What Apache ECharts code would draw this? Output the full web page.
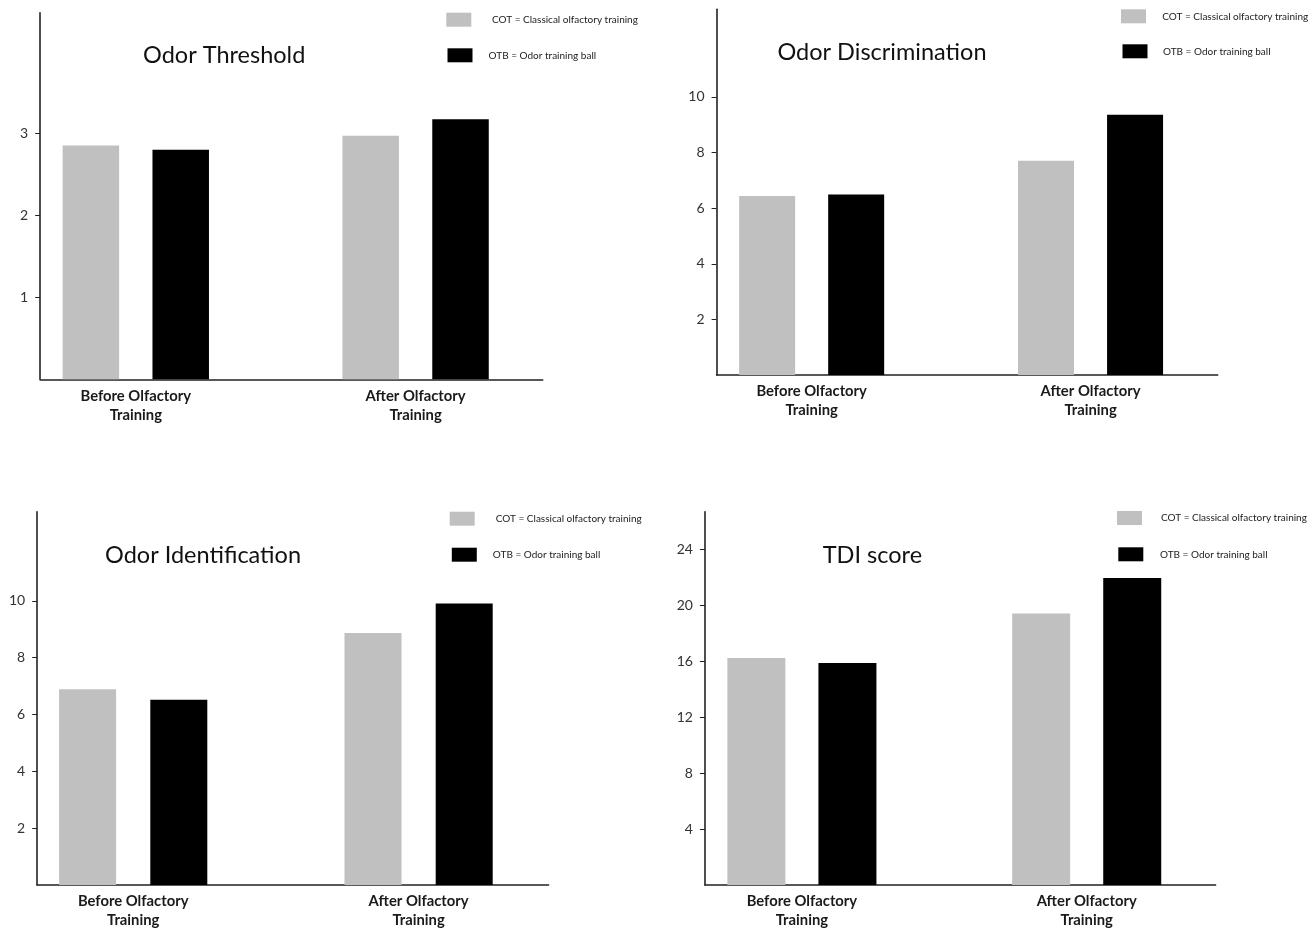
<!DOCTYPE html>
<html>
<head>
<meta charset="utf-8">
<script src="https://cdn.jsdelivr.net/npm/echarts@6/dist/echarts.min.js"></script>
<style>
html,body{margin:0;padding:0;background:#fff;}
#chart{width:1314px;height:931px;}
</style>
</head>
<body>
<div id="chart"></div>
<script>
// ---- data ----
const categories = ['Before Olfactory\nTraining', 'After Olfactory\nTraining'];
const seriesNames = ['COT = Classical olfactory training', 'OTB = Odor training ball'];

const thresholdCOT = [2.85, 2.97];
const thresholdOTB = [2.80, 3.17];
const discriminationCOT = [6.44, 7.7];
const discriminationOTB = [6.49, 9.36];
const identificationCOT = [6.89, 8.87];
const identificationOTB = [6.52, 9.91];
const tdiCOT = [16.23, 19.42];
const tdiOTB = [15.87, 21.95];

const thresholdTicks = [1, 2, 3];
const discriminationTicks = [2, 4, 6, 8, 10];
const identificationTicks = [2, 4, 6, 8, 10];
const tdiTicks = [4, 8, 12, 16, 20, 24];

const titles = ['Odor Threshold', 'Odor Discrimination', 'Odor Identification', 'TDI score'];

// ---- layout / style ----
const layout = [
  {max: 4.47, axis: {left: 40.2, top: 12.7, width: 502.5, height: 366.6}, bars: {left: -4.1, width: 559.6},
   barWidth: 56.5, barGap: '59%', title: {left: 143, top: 43},
   legendCOT: {left: 446.3, top: 12.7, pad: 15.7}, legendOTB: {left: 447.5, top: 48.3, pad: 11.1}, labelMargin: 7},
  {max: 13.15, axis: {left: 716.6, top: 9.3, width: 501.1, height: 365.7}, bars: {left: 672.2, width: 557.8},
   barWidth: 56, barGap: '59%', title: {left: 777.4, top: 40},
   legendCOT: {left: 1121, top: 9.3, pad: 11.3}, legendOTB: {left: 1122.5, top: 44.3, pad: 10.5}, labelMargin: 6},
  {max: 13.14, axis: {left: 37.2, top: 511.7, width: 511.4, height: 373.3}, bars: {left: -9.5, width: 570.8},
   barWidth: 57, barGap: '60%', title: {left: 105, top: 543},
   legendCOT: {left: 449.7, top: 511.7, pad: 16.1}, legendOTB: {left: 451.8, top: 547.7, pad: 11}, labelMargin: 6},
  {max: 26.7, axis: {left: 704.9, top: 511.7, width: 510.7, height: 373.3}, bars: {left: 659.5, width: 569.6},
   barWidth: 58, barGap: '57%', title: {left: 822.7, top: 543},
   legendCOT: {left: 1117, top: 511, pad: 14}, legendOTB: {left: 1118.3, top: 547.3, pad: 11.7}, labelMargin: 6}
];

const panelData = [
  {cot: thresholdCOT, otb: thresholdOTB, ticks: thresholdTicks},
  {cot: discriminationCOT, otb: discriminationOTB, ticks: discriminationTicks},
  {cot: identificationCOT, otb: identificationOTB, ticks: identificationTicks},
  {cot: tdiCOT, otb: tdiOTB, ticks: tdiTicks}
];

const FONT = 'Lato';
const AXIS_COLOR = '#222';
const COT_COLOR = '#c0c0c0';
const OTB_COLOR = '#000000';

const option = {
  backgroundColor: '#fff',
  animation: false,
  title: [], grid: [], xAxis: [], yAxis: [], series: [], legend: []
};

function makeLegend(name, pos) {
  return {
    orient: 'vertical', left: pos.left, top: pos.top, padding: 0,
    itemWidth: 25, itemHeight: 14, icon: 'rect', selectedMode: false,
    textStyle: {fontFamily: FONT, fontSize: 10, color: '#222', padding: [0, 0, 0, pos.pad]},
    data: [name]
  };
}

panelData.forEach((p, i) => {
  const L = layout[i];
  const axisGrid = 2 * i, barGrid = 2 * i + 1;
  option.grid.push({left: L.axis.left, top: L.axis.top, width: L.axis.width, height: L.axis.height, outerBoundsMode: 'none', containLabel: false});
  option.grid.push({left: L.bars.left, top: L.axis.top, width: L.bars.width, height: L.axis.height, outerBoundsMode: 'none', containLabel: false});

  option.xAxis.push({
    gridIndex: axisGrid, type: 'value', min: 0, max: 1,
    axisLine: {show: true, lineStyle: {color: AXIS_COLOR, width: 1.6}},
    axisTick: {show: false}, axisLabel: {show: false}, splitLine: {show: false}
  });
  option.yAxis.push({
    gridIndex: axisGrid, type: 'value', min: 0, max: L.max,
    axisLine: {show: true, lineStyle: {color: AXIS_COLOR, width: 1.6}},
    axisTick: {show: true, inside: false, length: 5, customValues: p.ticks, lineStyle: {color: AXIS_COLOR, width: 1}},
    axisLabel: {show: true, customValues: p.ticks, margin: 12, fontFamily: FONT, fontSize: 14, color: '#333'},
    splitLine: {show: false}
  });

  option.xAxis.push({
    gridIndex: barGrid, type: 'category', data: categories,
    axisLine: {show: false}, axisTick: {show: false}, splitLine: {show: false},
    axisLabel: {interval: 0, margin: L.labelMargin, fontFamily: FONT, fontWeight: 'bold', fontSize: 14.8, lineHeight: 19.5, color: '#1a1a1a'}
  });
  option.yAxis.push({
    gridIndex: barGrid, type: 'value', min: 0, max: L.max, show: false
  });

  option.series.push({
    name: seriesNames[0], type: 'bar', xAxisIndex: barGrid, yAxisIndex: barGrid,
    data: p.cot, barWidth: L.barWidth, barGap: L.barGap, itemStyle: {color: COT_COLOR}
  });
  option.series.push({
    name: seriesNames[1], type: 'bar', xAxisIndex: barGrid, yAxisIndex: barGrid,
    data: p.otb, barWidth: L.barWidth, barGap: L.barGap, itemStyle: {color: OTB_COLOR}
  });

  option.title.push({
    text: titles[i], left: L.title.left, top: L.title.top, padding: 0,
    textStyle: {fontFamily: FONT, fontSize: 23.5, fontWeight: 'normal', color: '#111'}
  });

  option.legend.push(makeLegend(seriesNames[0], L.legendCOT));
  option.legend.push(makeLegend(seriesNames[1], L.legendOTB));
});

const chart = echarts.init(document.getElementById('chart'), null, {renderer: 'canvas'});
chart.setOption(option);
</script>
</body>
</html>
